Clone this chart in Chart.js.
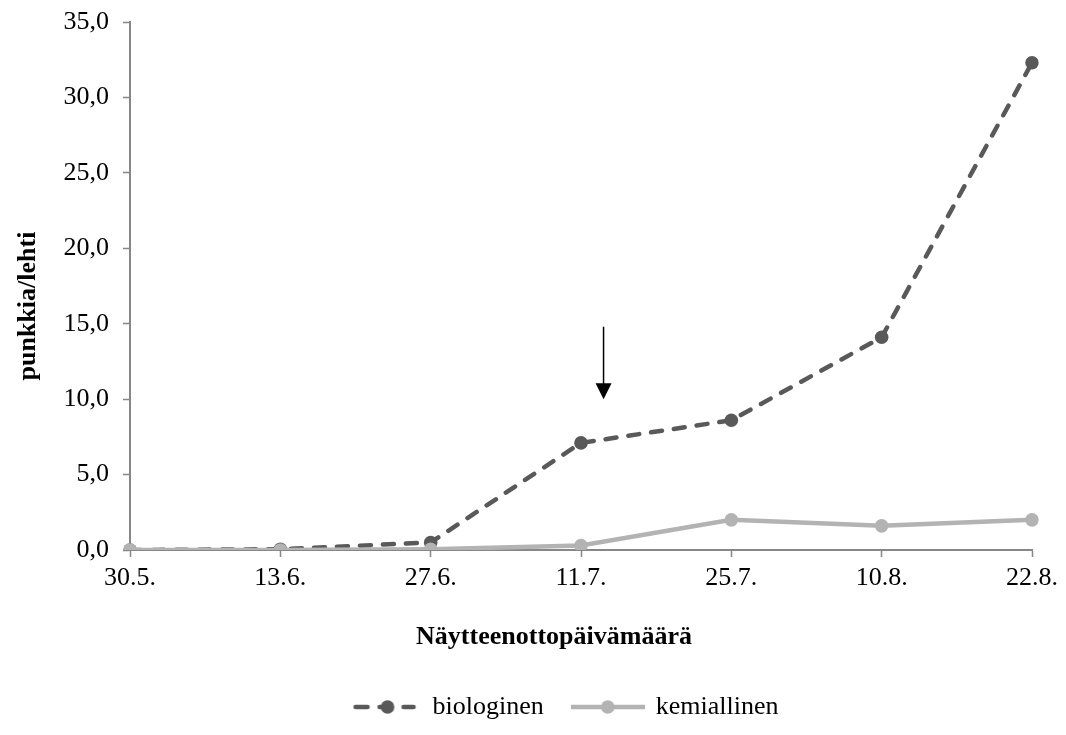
<!DOCTYPE html>
<html>
<head>
<meta charset="utf-8">
<script src="https://cdn.jsdelivr.net/npm/chart.js@4"></script>
<style>
  html, body { margin: 0; padding: 0; background: #ffffff; }
  #wrap { width: 1066px; height: 735px; }
</style>
</head>
<body>
<div id="wrap"><canvas id="c" width="1066" height="735"></canvas></div>
<script>
const categories = ['30.5.', '13.6.', '27.6.', '11.7.', '25.7.', '10.8.', '22.8.'];
const biologinen = [0.0, 0.05, 0.5, 7.1, 8.6, 14.1, 32.3];
const kemiallinen = [0.0, 0.0, 0.05, 0.3, 2.0, 1.6, 2.0];
const seriesNames = ['biologinen', 'kemiallinen'];
const yTitle = 'punkkia/lehti';
const xTitle = 'Näytteenottopäivämäärä';
const arrowX = 3.15;          // category index position of the arrow
const arrowFrom = 14.8;       // arrow start value
const arrowTo = 10.0;         // arrow tip value

const FONT = "'Liberation Serif', 'Times New Roman', serif";
const DARK = '#595959';
const LIGHT = '#b3b3b3';
const AXIS = '#878787';

function legendImage(color, dashed, w) {
  const c = document.createElement('canvas');
  c.width = w; c.height = 18;
  const x = c.getContext('2d');
  x.strokeStyle = color; x.fillStyle = color;
  x.lineWidth = 4.5; x.lineCap = dashed ? 'round' : 'butt';
  if (dashed) x.setLineDash([12, 12]);
  x.beginPath(); x.moveTo(dashed ? 3 : 0, 9); x.lineTo(w - (dashed ? 3 : 0), 9); x.stroke();
  x.setLineDash([]);
  x.beginPath(); x.arc(w / 2 + (dashed ? 3 : 0), 9, 6.8, 0, Math.PI * 2); x.fill();
  return c;
}
const legImgs = [legendImage(DARK, true, 64), legendImage(LIGHT, false, 74)];

const extras = {
  id: 'extras',
  afterLayout(chart) {
    const lg = chart.legend;
    if (lg) { lg.left += 48; lg.right += 48; }
  },
  afterDraw(chart) {
    const ctx = chart.ctx;
    const xs = chart.scales.x, ys = chart.scales.y;
    const ca = chart.chartArea;
    ctx.save();
    // arrow
    const ax = xs.getPixelForValue(arrowX);
    const y1 = ys.getPixelForValue(arrowFrom);
    const y2 = ys.getPixelForValue(arrowTo);
    ctx.strokeStyle = '#000'; ctx.fillStyle = '#000'; ctx.lineWidth = 1.5;
    ctx.beginPath(); ctx.moveTo(ax, y1); ctx.lineTo(ax, y2 - 14); ctx.stroke();
    ctx.beginPath(); ctx.moveTo(ax - 8, y2 - 16); ctx.lineTo(ax + 8, y2 - 16); ctx.lineTo(ax, y2); ctx.closePath(); ctx.fill();
    // axis titles
    ctx.font = 'bold 26px ' + FONT;
    ctx.fillStyle = '#000';
    ctx.textAlign = 'center'; ctx.textBaseline = 'middle';
    ctx.fillText(xTitle, (ca.left + ca.right) / 2 - 27, ca.bottom + 87);
    ctx.translate(28, (ca.top + ca.bottom) / 2 + 20);
    ctx.rotate(-Math.PI / 2);
    ctx.fillText(yTitle, 0, 0);
    ctx.restore();
  }
};

new Chart(document.getElementById('c'), {
  type: 'line',
  data: {
    labels: categories,
    datasets: [
      {
        label: seriesNames[0], data: biologinen, order: 1,
        borderColor: DARK, backgroundColor: DARK, borderWidth: 4.5,
        borderDash: [11, 12], borderCapStyle: 'round',
        pointRadius: 6.8, pointBorderWidth: 0, pointBackgroundColor: DARK,
        tension: 0, fill: false
      },
      {
        label: seriesNames[1], data: kemiallinen, order: 0,
        borderColor: LIGHT, backgroundColor: LIGHT, borderWidth: 4.5,
        pointRadius: 6.8, pointBorderWidth: 0, pointBackgroundColor: LIGHT,
        tension: 0, fill: false
      }
    ]
  },
  options: {
    responsive: false,
    animation: false,
    devicePixelRatio: 1,
    layout: { padding: { left: 0, right: 34, top: 22, bottom: 5 } },
    plugins: {
      tooltip: { enabled: false },
      legend: {
        position: 'bottom',
        labels: {
          font: { family: FONT, size: 26 },
          color: '#000',
          usePointStyle: true,
          pointStyleWidth: 70,
          padding: 29,
          sort: (a, b) => a.datasetIndex - b.datasetIndex,
          generateLabels: (chart) => chart.data.datasets.map((d, i) => ({
            text: d.label, pointStyle: legImgs[i], datasetIndex: i,
            fillStyle: d.borderColor, strokeStyle: d.borderColor, lineWidth: 0, hidden: false
          }))
        }
      }
    },
    scales: {
      x: {
        type: 'category',
        offset: false,
        grid: { display: true, drawOnChartArea: false, drawTicks: true, tickLength: 7, tickColor: AXIS, tickWidth: 1.5 },
        border: { display: true, color: AXIS, width: 2 },
        ticks: { font: { family: FONT, size: 26 }, color: '#000', padding: 6, maxRotation: 0, autoSkip: false },
        afterFit: (s) => { s.height = 115; }
      },
      y: {
        min: 0, max: 35,
        grid: { display: true, drawOnChartArea: false, drawTicks: true, tickLength: 7, tickColor: AXIS, tickWidth: 1.5 },
        border: { display: true, color: AXIS, width: 2 },
        ticks: {
          stepSize: 5, font: { family: FONT, size: 26 }, color: '#000', padding: 14,
          callback: (v) => Number(v).toFixed(1).replace('.', ',')
        },
        afterFit: (s) => { s.width = 130; s.paddingTop = 0; s.paddingBottom = 0; }
      }
    }
  },
  plugins: [extras]
});
</script>
</body>
</html>
